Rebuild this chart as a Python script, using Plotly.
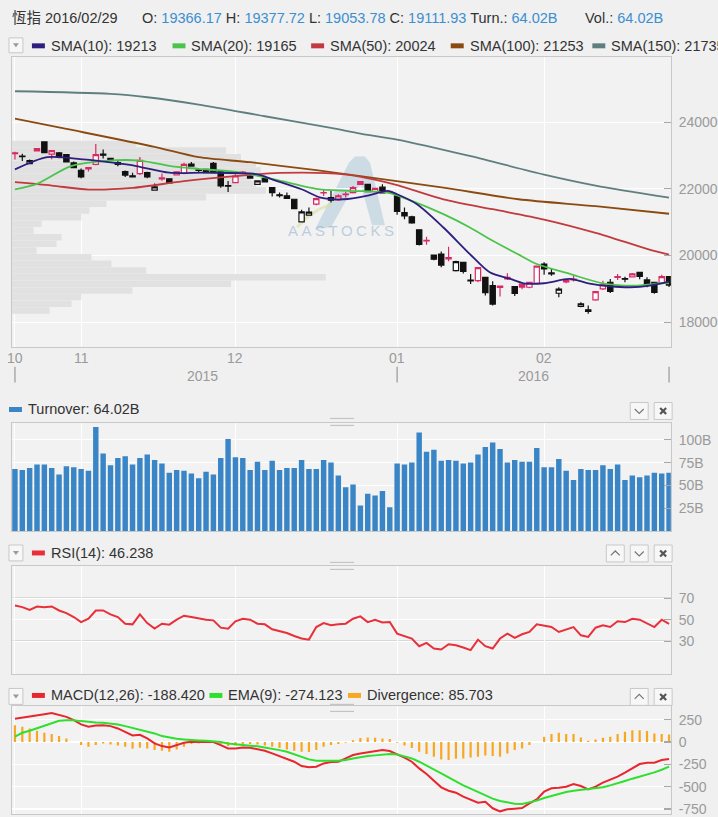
import plotly.graph_objects as go
import pandas as pd

W, H = 718, 817

# ---------------- data ----------------
holidays = ["2015-10-21", "2015-12-25", "2016-01-01", "2016-02-08", "2016-02-09", "2016-02-10"]
dates = [d for d in pd.bdate_range("2015-10-19", "2016-02-29") if d.strftime("%Y-%m-%d") not in holidays]
idx = list(range(len(dates)))

opens = [23060, 22980, 22760, 23210, 23410, 23040, 23080, 23030, 22780, 22555,
         22600, 22735, 23040, 22915, 22785, 22515, 22390, 22455, 22485, 21960,
         22300, 22300, 22420, 22466, 22745, 22570, 22585, 22765, 22535, 22100,
         22187, 22480, 22320, 22137, 22307, 22037, 21820, 21790, 21688, 21010,
         21210, 21539, 21880, 21738, 21668, 21830, 21888, 22217, 22137, 21918,
         22050, 21890, 21788, 21290, 21160, 20771, 20440, 20013, 20043, 19900,
         19545, 19794, 19260, 19246, 19345, 19096, 19040, 19300, 19066, 19140,
         19046, 19166, 19744, 19475, 18867, 19210, 19270, 18468, 18370, 18667,
         18996, 19196, 19340, 19305, 19360, 19495, 19265, 19196, 19165, 19366.17]
highs = [23114, 23054, 22880, 23220, 23430, 23160, 23110, 23050, 22820, 22610,
         22660, 23350, 23180, 22930, 22850, 22555, 22485, 22955, 22515, 22160,
         22460, 22310, 22520, 22785, 22805, 22605, 22600, 22805, 22566, 22237,
         22436, 22540, 22420, 22250, 22310, 22040, 21888, 21888, 21690, 21370,
         21440, 21738, 21988, 21938, 21838, 21908, 22087, 22237, 22150, 22027,
         22137, 21950, 21800, 21440, 21190, 20780, 20560, 20020, 20123, 20262,
         19840, 19810, 19445, 19650, 19350, 19226, 19096, 19465, 19080, 19150,
         19210, 19700, 19794, 19594, 19046, 19310, 19395, 18597, 18498, 18930,
         19245, 19295, 19445, 19365, 19475, 19500, 19345, 19200, 19425, 19377.72]
lows = [22884, 22834, 22740, 23130, 23070, 22890, 22920, 22800, 22620, 22320,
        22520, 22710, 22910, 22840, 22680, 22355, 22340, 22415, 22320, 21940,
        22240, 22160, 22400, 22436, 22665, 22486, 22470, 22466, 22037, 21908,
        22167, 22470, 22300, 22120, 22200, 21768, 21738, 21700, 21400, 20990,
        21190, 21509, 21788, 21589, 21638, 21738, 21858, 22127, 21900, 21908,
        21860, 21870, 21220, 21090, 20950, 20300, 20320, 19860, 19644, 19824,
        19520, 19460, 19146, 19200, 18800, 18498, 18767, 19265, 18780, 18990,
        19020, 19150, 19425, 19395, 18747, 19170, 19220, 18448, 18248, 18640,
        18966, 18877, 19265, 19196, 19350, 19290, 19046, 18850, 19146, 19053.78]
closes = [23080, 22964, 22850, 23140, 23090, 23150, 22960, 22810, 22640, 22360,
          22640, 23030, 23010, 22855, 22735, 22415, 22360, 22855, 22360, 22060,
          22330, 22180, 22510, 22735, 22685, 22555, 22490, 22486, 22087, 22080,
          22386, 22500, 22380, 22237, 22207, 21888, 21800, 21710, 21409, 21310,
          21300, 21708, 21890, 21660, 21788, 21840, 22037, 22137, 21918, 22017,
          21880, 21914, 21327, 21188, 20980, 20333, 20453, 19888, 19711, 19934,
          19817, 19521, 19237, 19635, 18887, 18542, 19080, 19340, 18860, 19052,
          19195, 19683, 19596, 19446, 18991, 19250, 19288, 18546, 18319, 18918,
          19122, 18924, 19363, 19286, 19450, 19370, 19140, 18889, 19364, 19111.93]

sma10_i = [0, 4.4, 9.3, 13.3, 16.5, 21, 26, 33, 35, 39, 41.6, 44.8, 48, 50.7, 52, 54.7,
           58.3, 61.9, 64.6, 67.4, 69.2, 72, 75.5, 78, 81, 83.7, 86.4, 89]
sma10_v = [22585, 22954, 22884, 22785, 22685, 22486, 22486, 22436, 22287, 21988, 21738, 21688,
           21800, 21938, 21838, 21539, 20841, 20043, 19495, 19295, 19166, 19166, 19295, 19166,
           19076, 19046, 19096, 19213]
sma20_i = [0, 3, 7.6, 12, 17, 21.7, 25, 30.8, 36.8, 41, 45.6, 50.7, 54, 58.3, 61.9, 65,
           68.4, 71, 75.5, 80, 84.6, 88, 89]
sma20_v = [21987, 22150, 22685, 22835, 22850, 22665, 22600, 22486, 22207, 22000, 21938, 21888,
           21639, 21240, 20841, 20442, 20043, 19744, 19445, 19166, 19096, 19166, 19165]
sma50_i = [0, 5, 10, 16, 23, 30, 36, 44.8, 51.6, 58.3, 65, 72, 79, 86, 89]
sma50_v = [22200, 22100, 21980, 22030, 22230, 22380, 22480, 22436, 22137, 21688, 21389, 21080,
           20680, 20200, 20024]
sma100_i = [0, 7, 19, 25, 32, 41, 47, 58.3, 68.5, 79, 89]
sma100_v = [24110, 23800, 23260, 22950, 22800, 22560, 22380, 22037, 21688, 21480, 21253]
sma150_i = [0, 13, 18, 25, 34, 43, 47, 52, 62, 72, 79, 89]
sma150_v = [24930, 24850, 24750, 24530, 24180, 23830, 23660, 23480, 22980, 22430, 22100, 21735]

profile_price = [23350, 23150, 22950, 22750, 22550, 22350, 22150, 21950, 21750, 21550, 21350,
                 21150, 20950, 20750, 20550, 20350, 20150, 19950, 19750, 19550, 19350, 19150,
                 18950, 18750, 18550, 18350]
profile_vol = [125, 215, 230, 245, 250, 240, 245, 255, 195, 95, 78, 70, 30, 22, 50, 45, 25,
               80, 100, 135, 315, 220, 121, 70, 60, 38]

turnover = [68, 67, 69, 73, 73, 69, 62, 71, 70, 68, 66, 114, 85, 72, 80, 82, 73, 80, 84, 78,
            74, 64, 67, 66, 63, 58, 65, 62, 80, 101, 81, 80, 67, 76, 67, 77, 67, 69, 69, 78,
            68, 68, 78, 75, 61, 48, 51, 28, 41, 39, 44, 26, 74, 73, 75, 108, 87, 89, 77, 78,
            77, 74, 75, 84, 92, 97, 90, 75, 78, 76, 76, 91, 70, 70, 79, 66, 56, 68, 67, 67,
            72, 68, 73, 56, 61, 59, 61, 64, 63, 64.02]

rsi = [63.2, 61.7, 59.2, 62.3, 61.7, 62.3, 58.6, 56.2, 52.5, 47.8, 50.9, 58.6, 58.6, 54.9, 52.5,
       46.3, 45.7, 54.9, 46.9, 41.7, 46.3, 45.4, 50, 53.7, 52.5, 51.2, 50, 49.4, 42.6, 41.7,
       48.5, 50.9, 50, 46.3, 45.7, 41.1, 39.2, 37.7, 34.9, 32.5, 31.5, 43.2, 46.9, 44.8, 45.7,
       46.3, 50.9, 53.1, 47.8, 50, 47.5, 47.8, 37.1, 34.9, 32.5, 25.4, 28.5, 23.2, 22.3, 27.2,
       26.3, 24.2, 21.7, 31.5, 25.4, 23.2, 32.5, 37.1, 33.1, 36.5, 38.6, 45.7, 44.8, 43.2, 38.6,
       40.8, 43.2, 35.5, 34, 42.6, 44.8, 43.2, 48.5, 47.8, 50.9, 50, 46.9, 43.2, 50, 46.238]

macd = [261, 272, 283, 298, 313, 325, 306, 283, 246, 198, 172, 186, 190, 179, 153, 116, 75, 82,
        41, -15, -45, -60, -37, -7, 4, 4, 0, 0, -34, -71, -71, -60, -63, -82, -97, -127, -157,
        -183, -220, -269, -283, -276, -239, -224, -220, -183, -145, -127, -112, -97, -90, -101,
        -134, -175, -220, -295, -358, -433, -507, -545, -567, -612, -649, -679, -668, -742, -776,
        -753, -746, -739, -686, -642, -556, -518, -511, -500, -470, -492, -530, -500, -455, -425,
        -388, -343, -295, -246, -231, -231, -201, -188.42]
ema9 = [60, 104, 127, 153, 179, 209, 239, 246, 246, 235, 224, 220, 216, 209, 198, 179, 160, 142,
        123, 97, 67, 48, 37, 30, 22, 19, 15, 11, 0, -15, -26, -34, -41, -48, -60, -71, -90, -108,
        -134, -164, -194, -209, -213, -209, -209, -201, -183, -168, -157, -149, -138, -134, -138,
        -157, -183, -220, -261, -306, -351, -395, -444, -485, -522, -560, -597, -634, -660, -679,
        -690, -694, -679, -656, -627, -604, -582, -560, -545, -537, -530, -522, -507, -485, -463,
        -436, -410, -388, -362, -339, -310, -274.123]
divergence = [190, 172, 153, 127, 104, 90, 67, 41, 0, -34, -52, -34, -15, -26, -37, -52, -75, -63,
              -71, -90, -97, -108, -82, -52, -22, -15, -7, -7, -22, -45, -37, -26, -22, -26, -37,
              -52, -67, -82, -97, -108, -112, -90, -52, -34, -22, -7, 22, 45, 52, 48, 41, 34, -7,
              -37, -67, -108, -134, -164, -194, -201, -186, -183, -172, -164, -149, -157, -164,
              -127, -90, -71, -34, 0, 60, 90, 104, 90, 90, 52, 15, 30, 48, 60, 90, 116, 134, 134,
              123, 97, 90, 85.703]

# ---------------- geometry helpers ----------------
def fx(x):
    return x / W


def fy(y):
    return 1 - y / H


FONT = "Liberation Sans, Arial, Noto Sans CJK TC, sans-serif"
BG = "#f0f0f0"
PLOT_BG = "#f2f2f2"
BORDER = "#c8c8c8"
TICKC = "#9a9a9a"
BLUE = "#3b8fd0"
RED_C = "#d92a64"
SMA_COLORS = ["#2d1f7e", "#4cc44c", "#c23a3e", "#8b4a10", "#5f7f7f"]

X0, X1 = 11.7, 672.7
FIRST_PX, STEP_PX = 15.0, 7.37
x_range = [(X0 - FIRST_PX) / STEP_PX, (X1 - FIRST_PX) / STEP_PX]
x_dom = [fx(X0), fx(X1)]

# month / year boundaries from dates
month_idx = [0] + [i for i in idx[1:] if dates[i].month != dates[i - 1].month]
year_idx = [0] + [i for i in idx[1:] if dates[i].year != dates[i - 1].year]

fig = go.Figure()

# volume-by-price profile (behind candles)
scale = (x_range[1] - x_range[0]) / (X1 - X0)
fig.add_trace(go.Bar(
    y=profile_price, x=[v * scale for v in profile_vol], base=x_range[0],
    orientation="h", width=195, marker=dict(color="#e1e1e1", line=dict(width=0)),
    xaxis="x", yaxis="y", hoverinfo="skip"))

# SMA lines
for (si, sv, c) in [(sma150_i, sma150_v, SMA_COLORS[4]), (sma100_i, sma100_v, SMA_COLORS[3]),
                    (sma50_i, sma50_v, SMA_COLORS[2]), (sma20_i, sma20_v, SMA_COLORS[1]),
                    (sma10_i, sma10_v, SMA_COLORS[0])]:
    fig.add_trace(go.Scatter(x=si, y=sv, mode="lines", line=dict(color=c, width=1.8, shape="spline", smoothing=0.8),
                             xaxis="x", yaxis="y", hoverinfo="skip"))

# candles: red if close >= previous close, black otherwise
is_red = [True] + [closes[i] >= closes[i - 1] for i in idx[1:]]
for red in (True, False):
    sel = [i for i in idx if is_red[i] == red]
    col = RED_C if red else "#111111"
    fig.add_trace(go.Candlestick(
        x=sel, open=[opens[i] for i in sel], high=[highs[i] for i in sel],
        low=[lows[i] for i in sel], close=[closes[i] for i in sel],
        increasing=dict(line=dict(color=col, width=1.2), fillcolor="rgba(255,255,255,0.85)"),
        decreasing=dict(line=dict(color=col, width=1.2), fillcolor=col),
        whiskerwidth=0, xaxis="x", yaxis="y", hoverinfo="skip"))

# turnover
fig.add_trace(go.Bar(x=idx, y=turnover, width=0.74, marker=dict(color="#3a85c6", line=dict(width=0)),
                     xaxis="x2", yaxis="y2", hoverinfo="skip"))

# RSI
fig.add_trace(go.Scatter(x=idx, y=rsi, mode="lines", line=dict(color="#e8303a", width=2),
                         xaxis="x3", yaxis="y3", hoverinfo="skip"))

# MACD
fig.add_trace(go.Bar(x=idx, y=divergence, width=0.3, marker=dict(color="#f7a823", line=dict(width=0)),
                     xaxis="x4", yaxis="y4", hoverinfo="skip"))
fig.add_trace(go.Scatter(x=idx, y=macd, mode="lines", line=dict(color="#e8262e", width=2),
                         xaxis="x4", yaxis="y4", hoverinfo="skip"))
fig.add_trace(go.Scatter(x=idx, y=ema9, mode="lines", line=dict(color="#2de02d", width=2),
                         xaxis="x4", yaxis="y4", hoverinfo="skip"))

# ---------------- axes ----------------
def xaxis(anchor):
    return dict(domain=x_dom, range=x_range, anchor=anchor, showticklabels=False,
                tickvals=month_idx, ticks="", showgrid=True, gridcolor="white", gridwidth=1,
                showline=True, linecolor=BORDER, linewidth=1, mirror=True, zeroline=False,
                rangeslider=dict(visible=False), fixedrange=True)


def yaxis(anchor, dom, rng, tv, tt=None):
    d = dict(domain=dom, range=rng, anchor=anchor, side="right", tickvals=tv,
             ticks="inside", ticklen=7, tickcolor="#a8a8a8", tickwidth=1.2,
             tickfont=dict(family=FONT, size=14, color=TICKC), showgrid=True, gridcolor="white",
             gridwidth=1.2, showline=True, linecolor=BORDER, linewidth=1, mirror=True,
             zeroline=False, fixedrange=True, ticklabelstandoff=4, ticklabeloverflow="allow")
    if tt is not None:
        d["ticktext"] = tt
    return d


main_dom = [fy(348), fy(57)]
turn_dom = [fy(533), fy(424.5)]
rsi_dom = [fy(676), fy(568)]
macd_dom = [fy(817), fy(709)]

price_ticks = [18000, 20000, 22000, 24000]
turn_ticks = [25, 50, 75, 100]
rsi_ticks = [30, 50, 70]
macd_ticks = [-750, -500, -250, 0, 250]

layout = dict(
    width=W, height=H, margin=dict(l=0, r=0, t=0, b=0),
    paper_bgcolor=BG, plot_bgcolor=PLOT_BG, showlegend=False, hovermode=False,
    font=dict(family=FONT, size=14, color="#333"),
    xaxis=xaxis("y"), xaxis2=xaxis("y2"), xaxis3=xaxis("y3"), xaxis4=xaxis("y4"),
    yaxis=yaxis("x", main_dom, [17261, 25965], price_ticks, [str(t) for t in price_ticks]),
    yaxis2=yaxis("x2", turn_dom, [0, 118.5], turn_ticks, [f"{t}B" for t in turn_ticks]),
    yaxis3=yaxis("x3", rsi_dom, [0, 100], rsi_ticks, [str(t) for t in rsi_ticks]),
    yaxis4=yaxis("x4", macd_dom, [-806, 400], macd_ticks, [str(t) for t in macd_ticks]),
    boxgap=0.15, boxgroupgap=0.15, bargap=0.2,
)
fig.update_layout(**layout)

shapes = []
ann = []


def rect(x0, y0, x1, y1, fill, line=None, lw=1, layer="above"):
    shapes.append(dict(type="rect", xref="paper", yref="paper", x0=fx(x0), x1=fx(x1), y0=fy(y0), y1=fy(y1),
                       fillcolor=fill, line=dict(color=line or fill, width=lw if line else 0), layer=layer))


def pline(x0, y0, x1, y1, color, w=1):
    shapes.append(dict(type="line", xref="paper", yref="paper", x0=fx(x0), x1=fx(x1), y0=fy(y0), y1=fy(y1),
                       line=dict(color=color, width=w)))


def path(pts, color=None, fill=None, w=1, closed=False, layer="above"):
    d = "M " + " L ".join(f"{fx(a):.5f},{fy(b):.5f}" for a, b in pts) + (" Z" if closed else "")
    shapes.append(dict(type="path", xref="paper", yref="paper", path=d, layer=layer,
                       line=dict(color=color or "rgba(0,0,0,0)", width=w if color else 0),
                       fillcolor=fill or "rgba(0,0,0,0)"))


def text(x, y, s, size=14.5, color="#333", anchor="left"):
    ann.append(dict(xref="paper", yref="paper", x=fx(x), y=fy(y), text=s, showarrow=False,
                    xanchor=anchor, yanchor="middle", font=dict(family=FONT, size=size, color=color)))


def dropdown(x, y0, y1):
    rect(x, y0, x + 14, y1, "#f7f7f7", BORDER)
    m = (y0 + y1) / 2
    path([(x + 4, m - 2), (x + 10, m - 2), (x + 7, m + 2)], fill="#9a9a9a", closed=True)


def btn(x, y0, kind):
    rect(x, y0, x + 18, y0 + 17, "#f7f7f7", BORDER)
    cx, cy = x + 9, y0 + 8.5
    if kind == "down":
        path([(cx - 4.5, cy - 2), (cx, cy + 2.5), (cx + 4.5, cy - 2)], color="#777", w=1.2)
    elif kind == "up":
        path([(cx - 4.5, cy + 2), (cx, cy - 2.5), (cx + 4.5, cy + 2)], color="#777", w=1.2)
    else:
        pline(cx - 3, cy - 3, cx + 3, cy + 3, "#555", 2.2)
        pline(cx - 3, cy + 3, cx + 3, cy - 3, "#555", 2.2)


def handle(y):
    pline(331, y, 355, y, "#c4c4c4", 1.2)
    pline(331, y + 7, 355, y + 7, "#c4c4c4", 1.2)


def legend_item(x_text, y, color, label):
    rect(x_text - 17, y - 2.5, x_text - 4, y + 2.5, color)
    text(x_text, y, label)


def val(v):
    return f"<span style='color:{BLUE}'>{v}</span>"


# header line 1
text(10, 18, "恆指 " + dates[-1].strftime("%Y/%m/%d"))
text(140, 18, f"O: {val(f'{opens[-1]:.2f}')} H: {val(f'{highs[-1]:.2f}')} L: {val(f'{lows[-1]:.2f}')} "
              f"C: {val(f'{closes[-1]:.2f}')} Turn.: {val(f'{turnover[-1]:.2f}B')}")
text(585, 18, f"Vol.: {val(f'{turnover[-1]:.2f}B')}")

# SMA legend row
dropdown(9, 38, 53)
sma_last = [sma10_v[-1], sma20_v[-1], sma50_v[-1], sma100_v[-1], sma150_v[-1]]
for xt, n, c, v in zip([49, 190, 329, 469, 611], [10, 20, 50, 100, 150], SMA_COLORS, sma_last):
    legend_item(xt, 46, c, f"SMA({n}): {v:.0f}")

# month and year labels under the main chart
for i in month_idx:
    ann.append(dict(xref="x", yref="paper", x=i, y=fy(359), text=f"{dates[i].month:02d}", showarrow=False,
                    xanchor="center", yanchor="middle", font=dict(family=FONT, size=14, color=TICKC)))
year_bounds = year_idx + [idx[-1]]
for k in range(len(year_idx)):
    a, b = year_bounds[k], year_bounds[k + 1] - (1 if k + 1 < len(year_idx) else 0)
    ann.append(dict(xref="x", yref="paper", x=(a + b) / 2, y=fy(377), text=str(dates[a].year),
                    showarrow=False, xanchor="center", yanchor="middle",
                    font=dict(family=FONT, size=14, color=TICKC)))
for i in year_bounds:
    shapes.append(dict(type="line", xref="x", yref="paper", x0=i, x1=i, y0=fy(368), y1=fy(384),
                       line=dict(color="#aaaaaa", width=1.5)))

# turnover header
legend_item(26, 411, "#3a85c6", f"Turnover: {turnover[-1]:.2f}B")
btn(632, 404, "down")
btn(656, 404, "x")
handle(420)

# RSI header
dropdown(9, 547, 563)
legend_item(49, 555, "#e8303a", f"RSI(14): {rsi[-1]:.3f}")
btn(608, 547, "up")
btn(632, 547, "down")
btn(656, 547, "x")
handle(564.5)
for lvl in (70, 30):
    shapes.append(dict(type="line", xref="x3 domain", yref="y3", x0=0, x1=1, y0=lvl, y1=lvl,
                       line=dict(color="#bdbdbd", width=1.5), layer="below"))

# MACD header
dropdown(9, 691, 707)
legend_item(49, 698, "#e8262e", f"MACD(12,26): {macd[-1]:.3f}")
legend_item(227, 698, "#2de02d", f"EMA(9): {ema9[-1]:.3f}")
legend_item(366, 698, "#f7a823", f"Divergence: {divergence[-1]:.3f}")
btn(632, 691, "up")
btn(656, 691, "x")
handle(707)

# watermark (AASTOCKS logo)
path([(316, 230), (350, 163), (356, 157), (366, 157), (371, 163), (386, 226), (373, 226),
      (362, 186), (350, 196), (332, 228)],
     fill="rgba(150,184,210,0.40)", closed=True, layer="below")
path([(298, 228), (308, 218), (320, 210), (332, 205)], color="rgba(215,222,150,0.55)", w=3, layer="below")
text(343, 231, "<span style='letter-spacing:3.5px'>AASTOCKS</span>", size=15,
     color="rgba(150,180,205,0.6)", anchor="center")

fig.update_layout(shapes=shapes, annotations=ann)
fig.write_html("out.html", config={"displayModeBar": False, "staticPlot": True},
               post_script="document.body.style.margin='0';document.body.style.overflow='hidden';")
